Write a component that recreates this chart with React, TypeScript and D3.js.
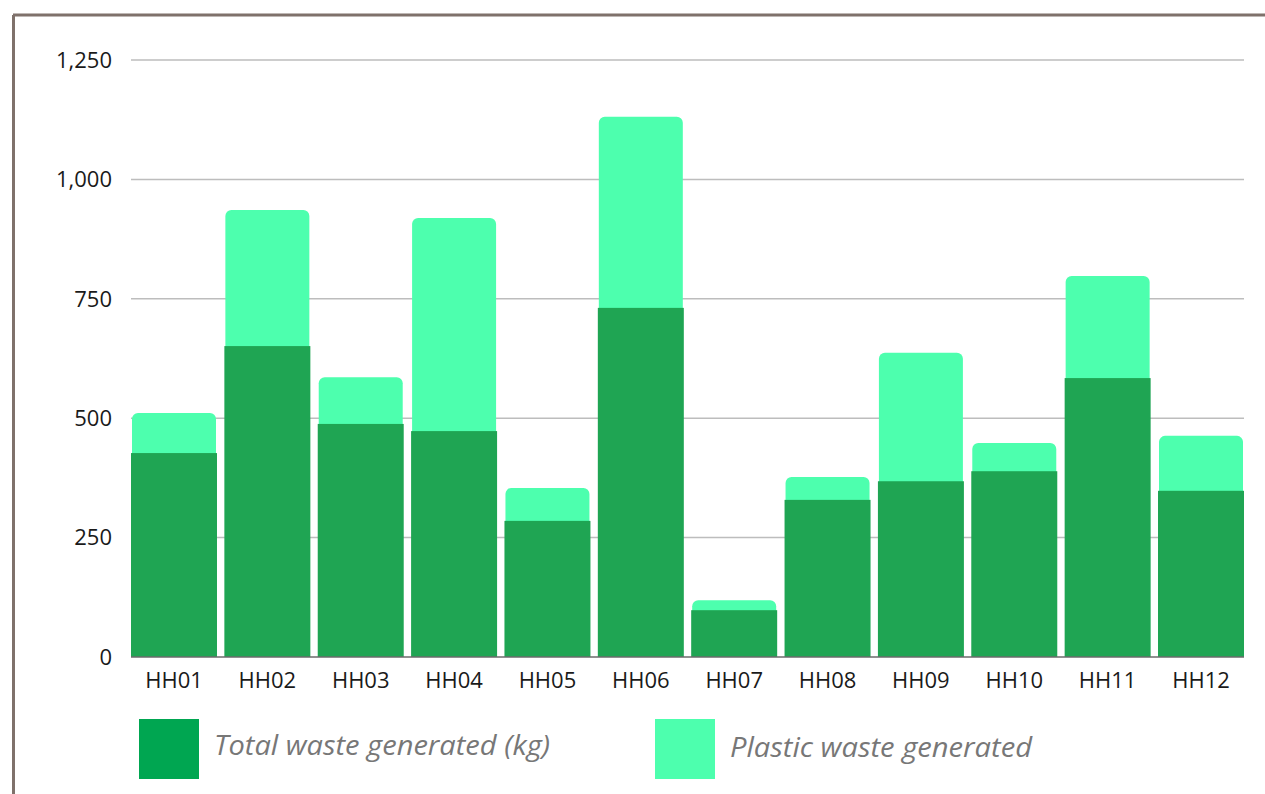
import React from "react";
import * as d3 from "d3";

const households = ["HH01", "HH02", "HH03", "HH04", "HH05", "HH06", "HH07", "HH08", "HH09", "HH10", "HH11", "HH12"];
const totalWaste = [427, 651, 488, 473, 285, 731, 98, 329, 368, 389, 584, 348];
const plasticWaste = [84, 285, 98, 446, 69, 400, 21, 48, 269, 59, 214, 115];
const yTicks = [0, 250, 500, 750, 1000, 1250];
const seriesNames = ["Total waste generated (kg)", "Plastic waste generated"];

const W = 1265;
const H = 794;
const left = 131;
const right = 1244;
const top = 60;
const bottom = 657;

const DARK = "#1fa553";
const DARK_SWATCH = "#00a651";
const LIGHT = "#4dffae";
const LABEL_FONT = "'Open Sans', sans-serif";

export default function App() {
  const x = d3.scaleBand<string>().domain(households).range([left, right]).paddingInner(0.079).paddingOuter(0);
  const y = d3.scaleLinear().domain([0, 1250]).range([bottom, top]);
  const bw = x.bandwidth();
  const fmt = d3.format(",");
  const r = 6;

  const topPath = (x0: number, w: number, y0: number, y1: number) => {
    const p = d3.path();
    p.moveTo(x0, y1);
    p.lineTo(x0, y0 + r);
    p.arcTo(x0, y0, x0 + r, y0, r);
    p.lineTo(x0 + w - r, y0);
    p.arcTo(x0 + w, y0, x0 + w, y0 + r, r);
    p.lineTo(x0 + w, y1);
    p.closePath();
    return p.toString();
  };

  return (
    <div style={{ position: "absolute", left: 0, top: 0 }}>
      <svg width={W} height={H} style={{ display: "block", background: "#fff" }}>
        {/* frame */}
        <line x1={13} y1={15} x2={W} y2={15} stroke="#7f716b" strokeWidth={3} />
        <line x1={13.5} y1={15} x2={13.5} y2={H} stroke="#7f716b" strokeWidth={3} />

        {/* grid */}
        {yTicks.map((t) => (
          <g key={t}>
            {t > 0 && <line x1={left} x2={right} y1={y(t)} y2={y(t)} stroke="#bdbdbd" strokeWidth={1.5} />}
            <text x={112} y={y(t)} dy="0.35em" textAnchor="end" fontFamily={LABEL_FONT} fontSize={22} fill="#1a1a1a">
              {fmt(t)}
            </text>
          </g>
        ))}

        {/* bars */}
        {households.map((h, i) => {
          const x0 = x(h) as number;
          const t = totalWaste[i];
          const p = plasticWaste[i];
          return (
            <g key={h}>
              <path d={topPath(x0 + 1, bw - 2, y(t + p), y(t) + 2)} fill={LIGHT} />
              <rect x={x0} y={y(t)} width={bw} height={bottom - y(t)} fill={DARK} />
            </g>
          );
        })}

        {/* baseline */}
        <line x1={left} x2={right} y1={bottom} y2={bottom} stroke="#6b6b6b" strokeWidth={1.5} />

        {households.map((h) => (
          <text key={h} x={(x(h) as number) + bw / 2} y={680.5} dy="0.35em" textAnchor="middle" fontFamily={LABEL_FONT} fontSize={22} fill="#1a1a1a">
            {h}
          </text>
        ))}

        {/* legend */}
        <rect x={139} y={719} width={60} height={60} fill={DARK_SWATCH} />
        <text x={214} y={755} fontFamily="'Open Sans', sans-serif" fontStyle="italic" fontSize={27} fill="#777" textLength={336} lengthAdjust="spacingAndGlyphs">
          {seriesNames[0]}
        </text>
        <rect x={655} y={719} width={60} height={60} fill={LIGHT} />
        <text x={730} y={757} fontFamily="'Open Sans', sans-serif" fontStyle="italic" fontSize={27} fill="#777" textLength={302} lengthAdjust="spacingAndGlyphs">
          {seriesNames[1]}
        </text>
      </svg>
    </div>
  );
}
